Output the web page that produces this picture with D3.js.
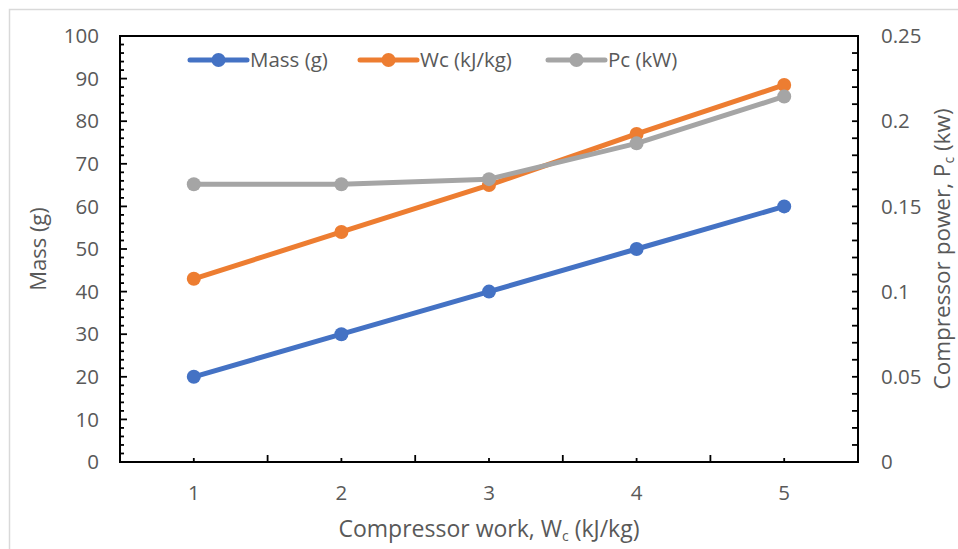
<!DOCTYPE html>
<html><head><meta charset="utf-8">
<script src="https://cdn.jsdelivr.net/npm/d3@7"></script>
<style>body{margin:0;background:#fff}svg{display:block}text{font-family:"Open Sans",sans-serif;fill:#595959}</style>
</head><body><svg width="958" height="549"></svg>
<script>
const categories = [1, 2, 3, 4, 5];
const massValues = [20, 30, 40, 50, 60];
const wcValues = [43, 54, 65, 77, 88.5];
const pcValues = [0.163, 0.163, 0.166, 0.187, 0.2145];
const leftTicks = [0,10,20,30,40,50,60,70,80,90,100];
const rightTicks = [0,0.05,0.1,0.15,0.2,0.25];
const seriesNames = ["Mass (g)", "Wc (kJ/kg)", "Pc (kW)"];
const colors = ["#4472C4", "#ED7D31", "#A5A5A5"];

const svg = d3.select("svg");
svg.append("rect").attr("x",9.5).attr("y",9.5).attr("width",970).attr("height",570)
  .attr("fill","#fff").attr("stroke","#d9d9d9").attr("stroke-width",1.5);

const L=120,R=858,T=36,B=462;
const x = d3.scaleBand().domain(categories).range([L,R]);
const yL = d3.scaleLinear().domain([0,100]).range([B,T]);
const yR = d3.scaleLinear().domain([0,0.25]).range([B,T]);

const g = svg.append("g");
const axc="#000";
g.append("rect").attr("x",L).attr("y",T).attr("width",R-L).attr("height",B-T).attr("fill","none").attr("stroke",axc).attr("stroke-width",2);
d3.range(0,101,2).forEach(v=>{
  const major = v%10===0;
  g.append("line").attr("x1",L).attr("x2",L+(major?7:4)).attr("y1",yL(v)).attr("y2",yL(v)).attr("stroke",axc).attr("stroke-width",1.8);
});
d3.range(0,26,1).forEach(i=>{
  const v=i/100;
  g.append("line").attr("x1",R).attr("x2",R-6).attr("y1",yR(v)).attr("y2",yR(v)).attr("stroke",axc).attr("stroke-width",1.8);
});
categories.forEach((c,i)=>{
  const cx = x(c)+x.bandwidth()/2;
  g.append("line").attr("x1",cx).attr("x2",cx).attr("y1",B).attr("y2",B-4).attr("stroke",axc).attr("stroke-width",1.8);
  if(i>0) g.append("line").attr("x1",x(c)).attr("x2",x(c)).attr("y1",B).attr("y2",B-7).attr("stroke",axc).attr("stroke-width",1.8);
});

const tfs = 20.5;
leftTicks.forEach(v=>{
  svg.append("text").attr("x",99).attr("y",yL(v)).attr("dy","0.35em").attr("text-anchor","end").attr("font-size",tfs).text(v);
});
rightTicks.forEach(v=>{
  svg.append("text").attr("x",881).attr("y",yR(v)).attr("dy","0.35em").attr("text-anchor","start").attr("font-size",tfs).text(v===0?"0":String(v));
});
categories.forEach(c=>{
  svg.append("text").attr("x",x(c)+x.bandwidth()/2).attr("y",493).attr("dy","0.35em").attr("text-anchor","middle").attr("font-size",tfs).text(c);
});

const xt = svg.append("text").attr("x",489).attr("y",537).attr("text-anchor","middle").attr("font-size",23);
xt.append("tspan").text("Compressor work, W");
xt.append("tspan").attr("font-size",14).attr("dy",4).text("c");
xt.append("tspan").attr("dy",-4).text(" (kJ/kg)");

svg.append("text").attr("transform","translate(46,249) rotate(-90)").attr("text-anchor","middle").attr("font-size",22).text("Mass (g)");
const rt = svg.append("text").attr("transform","translate(950,249) rotate(-90)").attr("text-anchor","middle").attr("font-size",22.5);
rt.append("tspan").text("Compressor power, P");
rt.append("tspan").attr("font-size",14).attr("dy",4).text("c");
rt.append("tspan").attr("dy",-4).text(" (kw)");

const series = [
  {vals: massValues, y: yL},
  {vals: wcValues, y: yL},
  {vals: pcValues, y: yR}
];
const line = (ys)=>d3.line().x((d,i)=>x(categories[i])+x.bandwidth()/2).y(d=>ys(d));
series.forEach((s,k)=>{
  svg.append("path").datum(s.vals).attr("d",line(s.y)).attr("fill","none").attr("stroke",colors[k]).attr("stroke-width",5).attr("stroke-linejoin","round");
  svg.selectAll(null).data(s.vals).enter().append("circle")
    .attr("cx",(d,i)=>x(categories[i])+x.bandwidth()/2).attr("cy",d=>s.y(d)).attr("r",7).attr("fill",colors[k]);
});

const legX = [190, 360, 548];
seriesNames.forEach((n,k)=>{
  const lg = svg.append("g").attr("transform",`translate(${legX[k]},60)`);
  lg.append("line").attr("x1",0).attr("x2",57).attr("y1",0).attr("y2",0).attr("stroke",colors[k]).attr("stroke-width",5).attr("stroke-linecap","round");
  lg.append("circle").attr("cx",28.5).attr("cy",0).attr("r",7).attr("fill",colors[k]);
  lg.append("text").attr("x",60).attr("y",0).attr("dy","0.35em").attr("font-size",20.5).text(n);
});
</script></body></html>
